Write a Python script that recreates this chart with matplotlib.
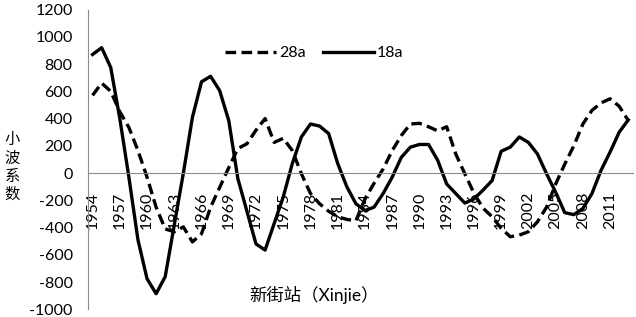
import numpy as np
import matplotlib
matplotlib.use("Agg")
import matplotlib.pyplot as plt

years = list(range(1954, 2014))

# wavelet coefficients
coef_28a = [570, 660, 600, 450, 335, 165, -30, -250, -410, -430,
            -395, -505, -445, -250, -105, 40, 180, 215, 315, 400,
            225, 255, 165, -5, -150, -225, -280, -320, -340, -350,
            -190, -75, 30, 165, 275, 360, 365, 340, 310, 340,
            140, -5, -147, -257, -320, -405, -467, -455, -430, -357,
            -250, -80, 65, 200, 360, 460, 515, 545, 490, 385]
coef_18a = [870, 920, 775, 400, -30, -490, -775, -885, -760, -380,
            0, 410, 670, 710, 605, 385, -40, -280, -520, -565,
            -370, -175, 70, 265, 360, 345, 290, 70, -100, -225,
            -275, -250, -150, -30, 115, 190, 210, 210, 95, -80,
            -150, -220, -190, -125, -55, 160, 190, 265, 225, 140,
            -5, -140, -290, -305, -260, -150, 20, 155, 300, 390]
ytick_vals = list(range(-1000, 1201, 200))

latin = ["Lato", "Noto Sans CJK SC", "DejaVu Sans"]
plt.rcParams["font.family"] = latin

fig = plt.figure(figsize=(6.36, 3.17), dpi=100)
ax = fig.add_axes([0.1384, 0.024, 0.8566, 0.946])

x = np.arange(len(years))
ax.plot(x, coef_28a, color="black", lw=2.4, dashes=(3.2, 1.6), label="28a")
ax.plot(x, coef_18a, color="black", lw=2.4, label="18a")

ax.set_xlim(-0.5, len(years) - 0.5)
ax.set_ylim(-1000, 1200)
ax.set_yticks(ytick_vals)
ax.set_yticklabels([str(v) for v in ytick_vals], fontsize=11.5)

# category axis sits on y=0, labels every 3 years
ax.spines["bottom"].set_position(("data", 0))
ax.spines["bottom"].set_color("#8c8c8c")
ax.spines["left"].set_color("#8c8c8c")
ax.spines["top"].set_visible(False)
ax.spines["right"].set_visible(False)
ax.set_xticks(x[::3])
ax.set_xticklabels([str(y) for y in years[::3]], rotation=90, fontsize=11.5)
ax.tick_params(axis="x", length=0, pad=13.5)
ax.tick_params(axis="y", length=0, pad=11)

fig.text(0.0197, 0.473, "小\n波\n系\n数", ha="center", va="center",
         fontsize=11, family=["Noto Sans CJK SC"], linespacing=1.1)
fig.text(0.494, 0.069, "新街站（Xinjie）", ha="center", va="center",
         fontsize=12.5, family=latin)

ax.legend(loc="center left", bbox_to_anchor=(0.252, 0.8545), ncol=2,
          frameon=False, fontsize=11.5, handlelength=3.2, handletextpad=0.15,
          columnspacing=1.1, borderpad=0, borderaxespad=0)

fig.savefig("out.png", dpi=100)
